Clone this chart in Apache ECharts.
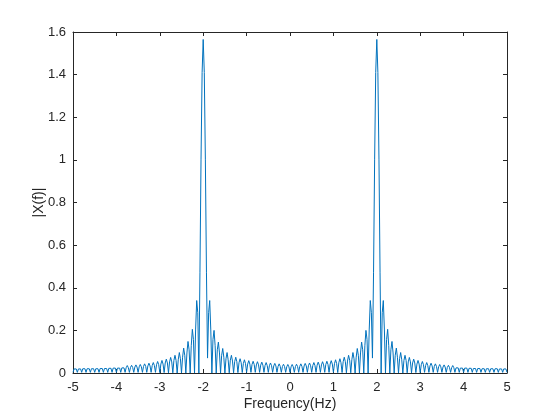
<!DOCTYPE html>
<html>
<head>
<meta charset="utf-8">
<script src="https://cdn.jsdelivr.net/npm/echarts@6/dist/echarts.min.js"></script>
<style>
html,body{margin:0;padding:0;background:#fff;}
#chart{width:560px;height:420px;}
</style>
</head>
<body>
<div id="chart"></div>
<script>
// Frequency sampling grid (Hz)
const freqMin = -5;
const freqMax = 5;
const freqStep = 0.025;

// |X(f)|, f = -5 ... 0 (step 0.025)
const magLeft = [
  0.003,0.019,0.027,0.019, 0.003,0.019,0.027,0.019, 0.003,0.020,0.027,0.020, 0.003,0.020,0.027,0.020,
  0.003,0.020,0.028,0.020, 0.003,0.020,0.028,0.020, 0.003,0.021,0.029,0.021, 0.003,0.021,0.029,0.021,
  0.003,0.022,0.030,0.022, 0.003,0.023,0.031,0.023, 0.003,0.023,0.032,0.023, 0.003,0.024,0.033,0.024,
  0.003,0.025,0.035,0.025, 0.003,0.026,0.036,0.026, 0.003,0.028,0.038,0.028, 0.003,0.029,0.040,0.029,
  0.003,0.031,0.043,0.031, 0.003,0.033,0.046,0.033, 0.003,0.035,0.049,0.035, 0.003,0.039,0.054,0.039,
  0.002,0.042,0.059,0.042, 0.002,0.047,0.065,0.047, 0.001,0.052,0.073,0.052, 0.001,0.059,0.083,0.059,
  0.000,0.062,0.096,0.067, 0.000,0.074,0.117,0.083, 0.000,0.094,0.148,0.109, 0.000,0.128,0.205,0.157,
  0.000,0.202,0.340,0.283, 0.000,0.470,1.000,1.410, 1.565,1.410,1.000,0.470, 0.070,0.283,0.340,0.202,
  0.000,0.157,0.200,0.128, 0.000,0.109,0.145,0.094, 0.000,0.083,0.115,0.074, 0.000,0.067,0.096,0.062,
  0.001,0.060,0.083,0.056, 0.001,0.053,0.074,0.053, 0.002,0.048,0.067,0.048, 0.002,0.044,0.062,0.044,
  0.003,0.042,0.058,0.042, 0.003,0.040,0.055,0.040, 0.003,0.038,0.053,0.038, 0.003,0.037,0.051,0.037,
  0.003,0.035,0.049,0.035, 0.003,0.034,0.047,0.034, 0.003,0.033,0.045,0.033, 0.003,0.031,0.043,0.031,
  0.003,0.030,0.041,0.030, 0.003,0.029,0.040,0.029,
  0.003
];

// |X(f)|, f = 0.025 ... 5 (step 0.025)
const magRight = [
  0.029,0.040,0.029,0.003, 0.030,0.041,0.030,0.003, 0.031,0.043,0.031,0.003, 0.033,0.045,0.033,0.003,
  0.034,0.047,0.034,0.003, 0.035,0.049,0.035,0.003, 0.037,0.051,0.037,0.003, 0.038,0.053,0.038,0.003,
  0.040,0.055,0.040,0.003, 0.042,0.058,0.042,0.003, 0.044,0.062,0.044,0.002, 0.048,0.067,0.048,0.002,
  0.053,0.074,0.053,0.001, 0.056,0.083,0.060,0.001, 0.062,0.096,0.067,0.000, 0.074,0.115,0.083,0.000,
  0.094,0.145,0.109,0.000, 0.128,0.200,0.157,0.000, 0.202,0.340,0.283,0.070, 0.470,1.000,1.410,1.565,
  1.410,1.000,0.470,0.000, 0.283,0.340,0.202,0.000, 0.157,0.205,0.128,0.000, 0.109,0.148,0.094,0.000,
  0.083,0.117,0.074,0.000, 0.067,0.096,0.062,0.000, 0.059,0.083,0.059,0.001, 0.052,0.073,0.052,0.001,
  0.047,0.065,0.047,0.002, 0.042,0.059,0.042,0.002, 0.039,0.054,0.039,0.003, 0.035,0.049,0.035,0.003,
  0.033,0.046,0.033,0.003, 0.031,0.043,0.031,0.003, 0.029,0.040,0.029,0.003, 0.028,0.038,0.028,0.003,
  0.026,0.036,0.026,0.003, 0.025,0.035,0.025,0.003, 0.024,0.033,0.024,0.003, 0.023,0.032,0.023,0.003,
  0.023,0.031,0.023,0.003, 0.022,0.030,0.022,0.003, 0.021,0.029,0.021,0.003, 0.021,0.029,0.021,0.003,
  0.020,0.028,0.020,0.003, 0.020,0.028,0.020,0.003, 0.020,0.027,0.020,0.003, 0.020,0.027,0.020,0.003,
  0.019,0.027,0.019,0.003, 0.019,0.027,0.019,0.003
];

const xTicks = [-5,-4,-3,-2,-1,0,1,2,3,4,5];
const yTicks = [0,0.2,0.4,0.6,0.8,1,1.2,1.4,1.6];
const xTitle = 'Frequency(Hz)';
const yTitle = '|X(f)|';

const mags = magLeft.concat(magRight);
const seriesData = mags.map((m, i) => [+(freqMin + i * freqStep).toFixed(3), m]);

const axisColor = '#262626';
const fontFam = '"Liberation Sans", Arial, sans-serif';

const baseX = {
  type: 'value', min: freqMin, max: freqMax, interval: 1,
  axisLine: { show: true, onZero: false, lineStyle: { color: axisColor, width: 1 } },
  axisTick: { show: true, inside: true, length: 4, lineStyle: { color: axisColor } },
  splitLine: { show: false }
};
const baseY = {
  type: 'value', min: 0, max: 1.6, interval: 0.2,
  axisLine: { show: true, onZero: false, lineStyle: { color: axisColor, width: 1 } },
  axisTick: { show: true, inside: true, length: 4, lineStyle: { color: axisColor } },
  splitLine: { show: false }
};

const chart = echarts.init(document.getElementById('chart'), null, { renderer: 'canvas' });
chart.setOption({
  animation: false,
  backgroundColor: '#ffffff',
  grid: { left: 73, right: 53, top: 32, bottom: 47, containLabel: false },
  xAxis: [
    Object.assign({}, baseX, {
      position: 'bottom',
      name: xTitle, nameLocation: 'middle', nameGap: 24, nameMoveOverlap: false,
      nameTextStyle: { color: axisColor, fontSize: 14, fontFamily: fontFam },
      axisLabel: { show: true, color: axisColor, fontSize: 13, fontFamily: fontFam, margin: 8,
        formatter: v => (xTicks.indexOf(v) >= 0 ? String(v) : '') }
    }),
    Object.assign({}, baseX, { position: 'top', axisLabel: { show: false } })
  ],
  yAxis: [
    Object.assign({}, baseY, {
      position: 'left',
      name: yTitle, nameLocation: 'middle', nameGap: 27, nameRotate: 90, nameMoveOverlap: false,
      nameTextStyle: { color: axisColor, fontSize: 14, fontFamily: fontFam },
      axisLabel: { show: true, color: axisColor, fontSize: 13, fontFamily: fontFam, margin: 7,
        formatter: v => { const r = Math.round(v * 10) / 10; return yTicks.indexOf(r) >= 0 ? String(r) : ''; } }
    }),
    Object.assign({}, baseY, { position: 'right', axisLabel: { show: false } })
  ],
  series: [{
    type: 'line',
    data: seriesData,
    xAxisIndex: 0, yAxisIndex: 0,
    showSymbol: false,
    smooth: false,
    lineStyle: { color: '#0072BD', width: 1 },
    silent: true
  }]
});
</script>
</body>
</html>
